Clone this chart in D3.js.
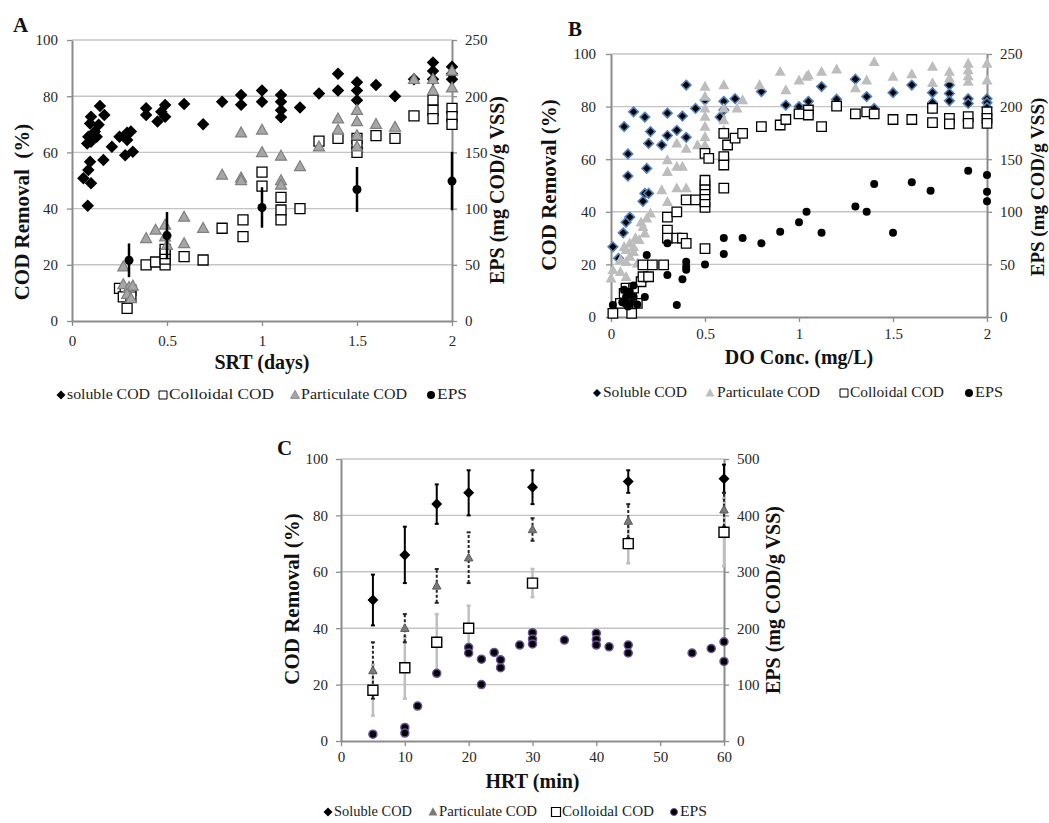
<!DOCTYPE html>
<html><head><meta charset="utf-8">
<script src="https://cdn.jsdelivr.net/npm/d3@7"></script>
<style>
body{margin:0;background:#fff}
svg{display:block}
text{font-family:"Liberation Serif","Times New Roman",serif}
</style>
</head><body>
<script>
// ---------------- DATA ----------------
// Panel A : SRT (days)
const aXTicks = [0, 0.5, 1, 1.5, 2];
const codTicks = [0, 20, 40, 60, 80, 100];
const aEpsTicks = [0, 50, 100, 150, 200, 250];
const aSoluble = [[0.083,41],[0.10,49],[0.06,50.8],[0.086,53.7],[0.095,56.7],[0.165,57.3],[0.21,62],[0.08,63.2],[0.10,63.8],[0.086,65.6],[0.13,65.6],[0.12,67.4],[0.14,69.8],[0.095,70.3],[0.10,72.7],[0.17,73.3],[0.147,76.5],[0.25,65.6],[0.29,67],[0.31,67.4],[0.29,64.4],[0.28,59],[0.32,60.2],[0.39,75.7],[0.39,73.3],[0.45,71],[0.47,74.5],[0.49,76.9],[0.49,72.7],[0.59,77.2],[0.69,70],[0.79,78],[0.89,80.4],[0.89,77],[1.0,82],[1.0,78],[1.1,80.4],[1.1,78],[1.1,75],[1.1,72.5],[1.2,76],[1.3,81],[1.4,88],[1.4,82],[1.5,85],[1.5,82],[1.5,78.6],[1.6,84],[1.7,80],[1.8,86],[1.9,92],[1.9,89],[1.9,86],[2.0,90.5],[2.0,88],[2.0,86]];
const aColloidal = [[0.29,4.5],[0.25,11.6],[0.28,10.4],[0.31,11],[0.27,8.6],[0.31,8.6],[0.39,20],[0.44,21],[0.49,20],[0.49,22],[0.49,24],[0.49,25.5],[0.59,22.9],[0.69,21.7],[0.79,33],[0.9,36],[0.9,30],[1.0,53],[1.0,48],[1.1,44],[1.1,39.5],[1.1,36],[1.2,40],[1.3,64],[1.4,65],[1.5,65],[1.5,62.6],[1.5,60],[1.6,66],[1.7,65],[1.8,73],[1.9,78.6],[1.9,75],[1.9,72],[2.0,75.7],[2.0,72.7],[2.0,70]];
const aParticulate = [[0.27,19.3],[0.27,13],[0.30,12],[0.32,12.5],[0.29,9.5],[0.31,8],[0.39,29.4],[0.44,32.4],[0.49,34.2],[0.49,30],[0.5,27],[0.59,37],[0.59,27.6],[0.69,33],[0.79,52],[0.89,67],[0.89,51],[0.89,50],[1.0,68],[1.0,60],[1.1,58.7],[1.1,50],[1.1,48.4],[1.2,55],[1.3,62],[1.4,72],[1.4,68],[1.5,75],[1.5,71],[1.5,66],[1.5,62],[1.6,70],[1.7,69],[1.8,86],[1.9,86],[1.9,82],[2.0,89],[2.0,83]];
const aEpsX = [0.3, 0.5, 1, 1.5, 2];
const aEpsY = [54, 76, 101, 117, 124.5];
const aEpsErr = [15, 21, 18, 20, 26];

// Panel B : DO Conc. (mg/L)
const bXTicks = [0, 0.5, 1, 1.5, 2];
const bEpsTicks = [0, 50, 100, 150, 200, 250];
const bSoluble = [[0.01,26.7],[0.04,22.3],[0.065,32],[0.08,36],[0.1,38],[0.09,53.6],[0.09,62],[0.07,72.4],[0.12,78],[0.18,76],[0.21,70.5],[0.20,66],[0.19,56.5],[0.18,47],[0.2,47],[0.17,44],[0.30,77.5],[0.30,69],[0.27,65.4],[0.35,71],[0.38,76.4],[0.40,68.3],[0.40,88.2],[0.45,79.3],[0.50,82.5],[0.60,82],[0.60,78.7],[0.58,76],[0.66,83],[0.80,85.7],[0.90,73],[0.93,80.6],[1.0,80],[1.05,82],[1.12,87.6],[1.2,82.8],[1.3,90.4],[1.36,83.8],[1.4,79.3],[1.5,85.3],[1.6,88.2],[1.71,85.3],[1.71,81.5],[1.71,79.3],[1.8,88.2],[1.8,85],[1.8,82.2],[1.9,83],[1.9,81.2],[2.0,83],[2.0,81.5],[2.0,79.7]];
const bParticulate = [[0,14.7],[0.01,17.9],[0.08,15.3],[0.05,21.7],[0.08,21],[0.08,25.5],[0.12,24.8],[0.1,28],[0.07,26.7],[0.12,26.7],[0.1,23],[0.05,17.2],[0.14,20.4],[0.13,30],[0.16,36],[0.15,29.3],[0.18,31.8],[0.17,34.3],[0.19,37.5],[0.21,39.4],[0.30,43.8],[0.27,48.3],[0.35,49],[0.40,49],[0.30,55.2],[0.30,59.7],[0.35,57.2],[0.38,57.2],[0.35,66],[0.40,64],[0.46,65.4],[0.5,65.4],[0.5,68.5],[0.5,72.4],[0.5,76.2],[0.5,79.3],[0.5,83.8],[0.5,87.6],[0.6,88.2],[0.6,79.3],[0.6,74.9],[0.6,71],[0.67,79.3],[0.70,82.5],[0.79,88.2],[0.90,93.3],[0.93,86.3],[1.0,90],[1.04,91.4],[1.05,92],[1.12,93.3],[1.2,94.2],[1.3,87],[1.36,90],[1.4,97],[1.5,91.4],[1.6,92.4],[1.71,95.2],[1.71,89],[1.8,93.3],[1.8,90.7],[1.9,96.4],[1.9,93.9],[1.9,91.6],[1.9,89.5],[2.0,96.4],[2.0,90]];
const bColloidal = [[0.01,1.4],[0.11,1.4],[0.05,5.2],[0.14,5.2],[0.09,5.8],[0.11,7.7],[0.07,9],[0.08,11],[0.12,11],[0.16,13.4],[0.17,15.3],[0.2,15.3],[0.17,19.8],[0.22,19.8],[0.28,19.8],[0.30,33],[0.30,30],[0.35,30],[0.38,30],[0.40,28],[0.30,38],[0.35,40],[0.40,44.5],[0.45,44.5],[0.5,41.7],[0.5,43.8],[0.5,46.4],[0.5,48.3],[0.5,50.2],[0.5,52],[0.5,26],[0.5,62.2],[0.52,60.3],[0.6,69.8],[0.6,61],[0.6,57.8],[0.6,49],[0.62,65.4],[0.66,68],[0.70,69.8],[0.80,72.4],[0.90,73],[0.93,75.1],[1.0,77.2],[1.05,78.7],[1.05,76.8],[1.12,72.4],[1.2,80.2],[1.3,77.2],[1.36,78],[1.4,77.2],[1.5,75.1],[1.6,75.1],[1.71,79.3],[1.71,73.9],[1.8,75.5],[1.8,73.4],[1.9,76.2],[1.9,73.6],[2.0,78],[2.0,75.5],[2.0,73.6]];
const bEps = [[0.01,11.4],[0.07,26],[0.1,24],[0.08,19],[0.12,19],[0.06,14],[0.1,13],[0.14,12],[0.09,10],[0.12,30],[0.18,19],[0.19,59],[0.30,70],[0.30,40],[0.35,11.4],[0.38,36],[0.40,52.5],[0.40,48],[0.40,45],[0.50,50],[0.60,75],[0.60,60],[0.70,75],[0.80,70],[0.90,81],[1.0,90],[1.04,100],[1.12,80],[1.30,105],[1.36,100],[1.40,126.5],[1.50,80],[1.60,128],[1.70,120],[1.90,139],[2.0,135],[2.0,119],[2.0,110]];

// Panel C : HRT (min)
const cXTicks = [0, 10, 20, 30, 40, 50, 60];
const cEpsTicks = [0, 100, 200, 300, 400, 500];
const cX = [5, 10, 15, 20, 30, 45, 60];
const cSoluble = [50, 66, 84, 88, 90, 92, 93];
const cSolubleErr = [9, 10, 7, 8, 6, 4, 5];
const cParticulate = [25, 40, 55, 65, 75, 78, 82];
const cParticulateErr = [10, 5, 6, 9, 4, 6, 6];
const cColloidal = [18, 26, 35, 40, 56, 70, 74];
const cColloidalErr = [9, 11, 10, 8, 5, 7, 12];
const cEps = [[5,12],[10,24],[10,14],[12,62],[15,120],[20,166],[20,156],[22,145],[22,100],[24,157],[25,144],[25,130],[28,170],[30,192],[30,181],[30,172],[35,179],[40,191],[40,180],[40,170],[42,167],[45,170],[45,156],[55,156],[58,164],[60,176],[60,141]];

// ---------------- SYMBOLS ----------------
const symDiamond = {draw(c, s){const r=Math.sqrt(s/2); c.moveTo(0,-r); c.lineTo(r,0); c.lineTo(0,r); c.lineTo(-r,0); c.closePath();}};
const symTri = {draw(c, s){const a=Math.sqrt(s)/2, h=1.8*a; c.moveTo(0,-h*0.58); c.lineTo(a,h*0.42); c.lineTo(-a,h*0.42); c.closePath();}};
function symPath(kind, w){
  if(kind==="diamond") return d3.symbol().type(symDiamond).size(w*w/2)();
  if(kind==="square") return d3.symbol().type(d3.symbolSquare).size(w*w)();
  if(kind==="triangle") return d3.symbol().type(symTri).size(w*w)();
  return d3.symbol().type(d3.symbolCircle).size(Math.PI*w*w/4)();
}

const svg = d3.select("body").append("svg").attr("width",1049).attr("height",823);
const AX = "#8c8c8c", GRID = "#c4c4c4", TXT = "#262626";

function panel(p){
  const g = svg.append("g");
  const x = d3.scaleLinear().domain(p.xDomain).range([p.x0,p.x1]);
  const y = d3.scaleLinear().domain([0,100]).range([p.y0,p.y1]);
  const y2 = d3.scaleLinear().domain(p.y2Domain).range([p.y0,p.y1]);
  g.selectAll("line.grid").data(codTicks.filter(t=>t>0)).join("line").attr("class","grid")
    .attr("x1",p.x0).attr("x2",p.x1).attr("y1",d=>y(d)).attr("y2",d=>y(d))
    .attr("stroke",GRID).attr("stroke-width",1.4);
  const style = sel => {
    sel.attr("font-size",null).attr("font-family",null);
    sel.select(".domain").attr("stroke",AX).attr("stroke-width",2);
    sel.selectAll(".tick line").attr("stroke",AX).attr("stroke-width",1.3);
    sel.selectAll(".tick text").attr("fill",TXT).style("font-size","15px");
  };
  g.append("g").attr("transform",`translate(0,${p.y0})`)
    .call(d3.axisBottom(x).tickValues(p.xTicks).tickFormat(d=>String(d)).tickSize(5).tickSizeOuter(0).tickPadding(p.bPad))
    .call(style);
  g.append("g").attr("transform",`translate(${p.x0},0)`)
    .call(d3.axisLeft(y).tickValues(codTicks).tickSize(5).tickSizeOuter(0).tickPadding(p.lPad))
    .call(style);
  g.append("g").attr("transform",`translate(${p.x1},0)`)
    .call(d3.axisRight(y2).tickValues(p.y2Ticks).tickSize(5).tickSizeOuter(0).tickPadding(8))
    .call(style);
  // titles
  g.append("text").attr("x",p.label[0]).attr("y",p.label[1]).text(p.labelText)
    .attr("font-weight","bold").attr("font-size",21).attr("fill","#111");
  g.append("text").attr("x",(p.x0+p.x1)/2+p.xt[0]).attr("y",p.xt[1]).text(p.xTitle)
    .attr("text-anchor","middle").attr("font-weight","bold").attr("font-size",20).attr("fill","#111");
  g.append("text").attr("transform",`translate(${p.lt[0]},${p.lt[1]}) rotate(-90)`).text("COD Removal"+(p.labelText==="A"?"\u00a0 (%)":" (%)"))
    .attr("text-anchor","middle").attr("dy","0.35em").attr("font-weight","bold").attr("font-size",21).attr("fill","#111");
  g.append("text").attr("transform",`translate(${p.rt[0]},${p.rt[1]}) rotate(-90)`).text("EPS (mg COD/g VSS)")
    .attr("text-anchor","middle").attr("dy","0.35em").attr("font-weight","bold").attr("font-size",p.rtSize||20).attr("fill","#111");
  return {g,x,y,y2};
}

function points(P, data, yScale, kind, w, fill, stroke, sw){
  P.g.append("g").selectAll("path").data(data).join("path")
    .attr("transform",d=>`translate(${P.x(d[0])},${yScale(d[1])})`)
    .attr("d",symPath(kind,w)).attr("fill",fill)
    .attr("stroke",stroke||"none").attr("stroke-width",sw||0);
}
function errBars(P, xs, ys, es, yScale, color, sw, dash, cap){
  const d = xs.map((v,i)=>[v,ys[i],es[i]]);
  const g = P.g.append("g").attr("stroke",color).attr("stroke-width",sw).attr("fill","none");
  g.selectAll("line.v").data(d).join("line").attr("x1",d=>P.x(d[0])).attr("x2",d=>P.x(d[0]))
    .attr("y1",d=>yScale(d[1]-d[2])).attr("y2",d=>yScale(d[1]+d[2])).attr("stroke-dasharray",dash||null);
  if(cap){
    g.selectAll("line.t").data(d).join("line").attr("x1",d=>P.x(d[0])-cap).attr("x2",d=>P.x(d[0])+cap)
      .attr("y1",d=>yScale(d[1]+d[2])).attr("y2",d=>yScale(d[1]+d[2]));
    g.selectAll("line.b").data(d).join("line").attr("x1",d=>P.x(d[0])-cap).attr("x2",d=>P.x(d[0])+cap)
      .attr("y1",d=>yScale(d[1]-d[2])).attr("y2",d=>yScale(d[1]-d[2]));
  }
}
function legend(items, y, fs){
  const g = svg.append("g");
  items.forEach(it=>{
    g.append("path").attr("transform",`translate(${it.mx},${y-4})`).attr("d",symPath(it.kind,it.w))
      .attr("fill",it.fill).attr("stroke",it.stroke||"none").attr("stroke-width",it.sw||0);
    g.append("text").attr("x",it.t0).attr("y",y).text(it.text).attr("font-size",fs).attr("fill","#222")
      .attr("textLength",it.t1-it.t0).attr("lengthAdjust","spacingAndGlyphs");
  });
}

// ---------------- PANEL A ----------------
const A = panel({x0:72,x1:452,y0:321,y1:40,xDomain:[0,2],xTicks:aXTicks,y2Domain:[0,250],y2Ticks:aEpsTicks,
  bPad:9,lPad:9,label:[13,32],labelText:"A",xTitle:"SRT (days)",xt:[0,369],lt:[22,212],rt:[497,190]});
points(A,aSoluble,A.y,"diamond",12.5,"#000");
points(A,aColloidal,A.y,"square",10,"#fff","#000",1.3);
points(A,aParticulate,A.y,"triangle",11,"#a6a6a6","#7f7f7f",1.2);
errBars(A,aEpsX,aEpsY,aEpsErr,A.y2,"#000",2.5,null,0);
points(A,aEpsX.map((v,i)=>[v,aEpsY[i]]),A.y2,"circle",9,"#000");
legend([
  {kind:"diamond",w:9,fill:"#000",mx:61,t0:67,t1:150,text:"soluble COD"},
  {kind:"square",w:8,fill:"#fff",stroke:"#000",sw:1,mx:163,t0:169,t1:274,text:"Colloidal COD"},
  {kind:"triangle",w:9,fill:"#a6a6a6",stroke:"#7f7f7f",sw:0.8,mx:295,t0:301,t1:407,text:"Particulate COD"},
  {kind:"circle",w:8,fill:"#000",mx:431,t0:437,t1:467,text:"EPS"}
],399,14);

// ---------------- PANEL B ----------------
const B = panel({x0:611,x1:987,y0:317,y1:54,xDomain:[0,2],xTicks:bXTicks,y2Domain:[0,250],y2Ticks:bEpsTicks,
  bPad:6,lPad:10,label:[568,36],labelText:"B",xTitle:"DO Conc. (mg/L)",xt:[0,364],lt:[549,185],rt:[1037,187],rtSize:19});
points(B,bSoluble,B.y,"diamond",9.5,"#000","#4f81bd",1.6);
points(B,bParticulate,B.y,"triangle",11,"#bdbdbd");
points(B,bColloidal,B.y,"square",9.5,"#fff","#000",1.3);
points(B,bEps,B.y2,"circle",8,"#000");
legend([
  {kind:"diamond",w:8,fill:"#000",stroke:"#4f81bd",sw:1,mx:597,t0:603,t1:687,text:"Soluble COD"},
  {kind:"triangle",w:9,fill:"#bdbdbd",mx:710,t0:717,t1:820,text:"Particulate COD"},
  {kind:"square",w:8,fill:"#fff",stroke:"#000",sw:1,mx:844,t0:850,t1:944,text:"Colloidal COD"},
  {kind:"circle",w:8,fill:"#000",mx:969,t0:975,t1:1003,text:"EPS"}
],397,14);

// ---------------- PANEL C ----------------
const C = panel({x0:341,x1:724,y0:741,y1:459,xDomain:[0,60],xTicks:cXTicks,y2Domain:[0,500],y2Ticks:cEpsTicks,
  bPad:5,lPad:8,label:[277,455],labelText:"C",xTitle:"HRT (min)",xt:[0,788],lt:[292,599],rt:[773,600]});
errBars(C,cX,cColloidal,cColloidalErr,C.y,"#bfbfbf",2.5,null,2);
errBars(C,cX,cSoluble,cSolubleErr,C.y,"#000",2,null,2);
errBars(C,cX,cParticulate,cParticulateErr,C.y,"#262626",2,"3,2",2);
points(C,cX.map((v,i)=>[v,cSoluble[i]]),C.y,"diamond",11,"#000");
points(C,cX.map((v,i)=>[v,cParticulate[i]]),C.y,"triangle",8.5,"#7a7a7a","#5a5a5a",1);
points(C,cX.map((v,i)=>[v,cColloidal[i]]),C.y,"square",10,"#fff","#000",1.4);
points(C,cEps,C.y2,"circle",8,"#000","#6b4f99",1.5);
legend([
  {kind:"diamond",w:9,fill:"#000",mx:328,t0:334,t1:412,text:"Soluble COD"},
  {kind:"triangle",w:9,fill:"#7a7a7a",mx:433,t0:439,t1:537,text:"Particulate COD"},
  {kind:"square",w:9,fill:"#fff",stroke:"#000",sw:1.2,mx:556,t0:562,t1:654,text:"Colloidal COD"},
  {kind:"circle",w:7,fill:"#000",stroke:"#6b4f99",sw:1,mx:674,t0:680,t1:707,text:"EPS"}
],816,14);
</script>
</body></html>
